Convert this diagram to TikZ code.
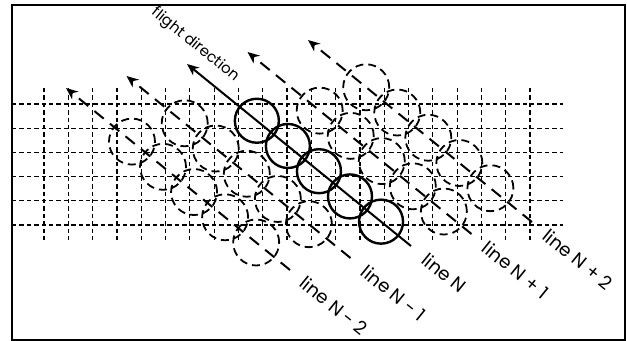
\documentclass[tikz,border=0pt]{standalone}
\usepackage{fontspec}
\setmainfont{Poppins}
\usetikzlibrary{arrows.meta,calc}
\begin{document}
\begin{tikzpicture}[x=0.5pt, y=-0.5pt,
        gridline/.style={draw=black, line width=0.6pt, dash pattern=on 2.2pt off 1.5pt},
        flight/.style={line width=1pt, -{Stealth[length=6pt, width=5pt]}},
        track/.style={flight, dash pattern=on 6pt off 4pt},
        photo/.style={line width=0.9pt, dash pattern=on 4pt off 2.5pt},
        photon/.style={line width=1.2pt},
        llab/.style={anchor=west, rotate=-39.1, inner sep=0pt, font=\fontsize{9.2}{11}\selectfont},
      ]
      \path[use as bounding box] (0,0) rectangle (627,341);
      \draw[line width=1.1pt] (12,5) rectangle (625,340);
      \foreach \y in {0,...,5} {\draw[gridline] (12,104+\y*24.2) -- (563,104+\y*24.2);}
      \foreach \x in {0,...,20} {\draw[gridline] (44+\x*24.3,88) -- (44+\x*24.3,242);}
      \foreach \k in {0,...,4} {
        \coordinate (s\k) at (66+60.5*\k,88-12*\k);
        \coordinate (e\k) at (290+60.5*\k,270-12*\k);
      }
      \foreach \k/\tz in {0/85,1/75,3/93,4/75} {
        \draw[track] (e\k) -- (s\k);
        \foreach \j in {0,...,4} {\draw[photo] ($(s\k)!{(\tz+40*\j)/288.6}!(e\k)$) circle[radius=11.5pt];}
      }
      \draw[flight] (e2) -- (s2);
      \foreach \j in {0,...,4} {\draw[photon] ($(s2)!{(90+40*\j)/288.6}!(e2)$) circle[radius=11pt];}
      \node[llab] (l0) at ($(s0)!1.055!(e0)$) {line N - 2};
      \node[llab] (l1) at ($(s1)!1.06!(e1)$) {line N - 1};
      \node[llab] (l2) at ($(s2)!1.06!(e2)$) {line N};
      \node[llab] (l3) at ($(s3)!1.06!(e3)$) {line N + 1};
      \node[llab] (l4) at ($(s4)!1.06!(e4)$) {line N + 2};
      \node[llab, anchor=center, font=\fontsize{7.5}{9}\selectfont] (fd) at (195,45) {flight direction};
    \end{tikzpicture}
\end{document}
